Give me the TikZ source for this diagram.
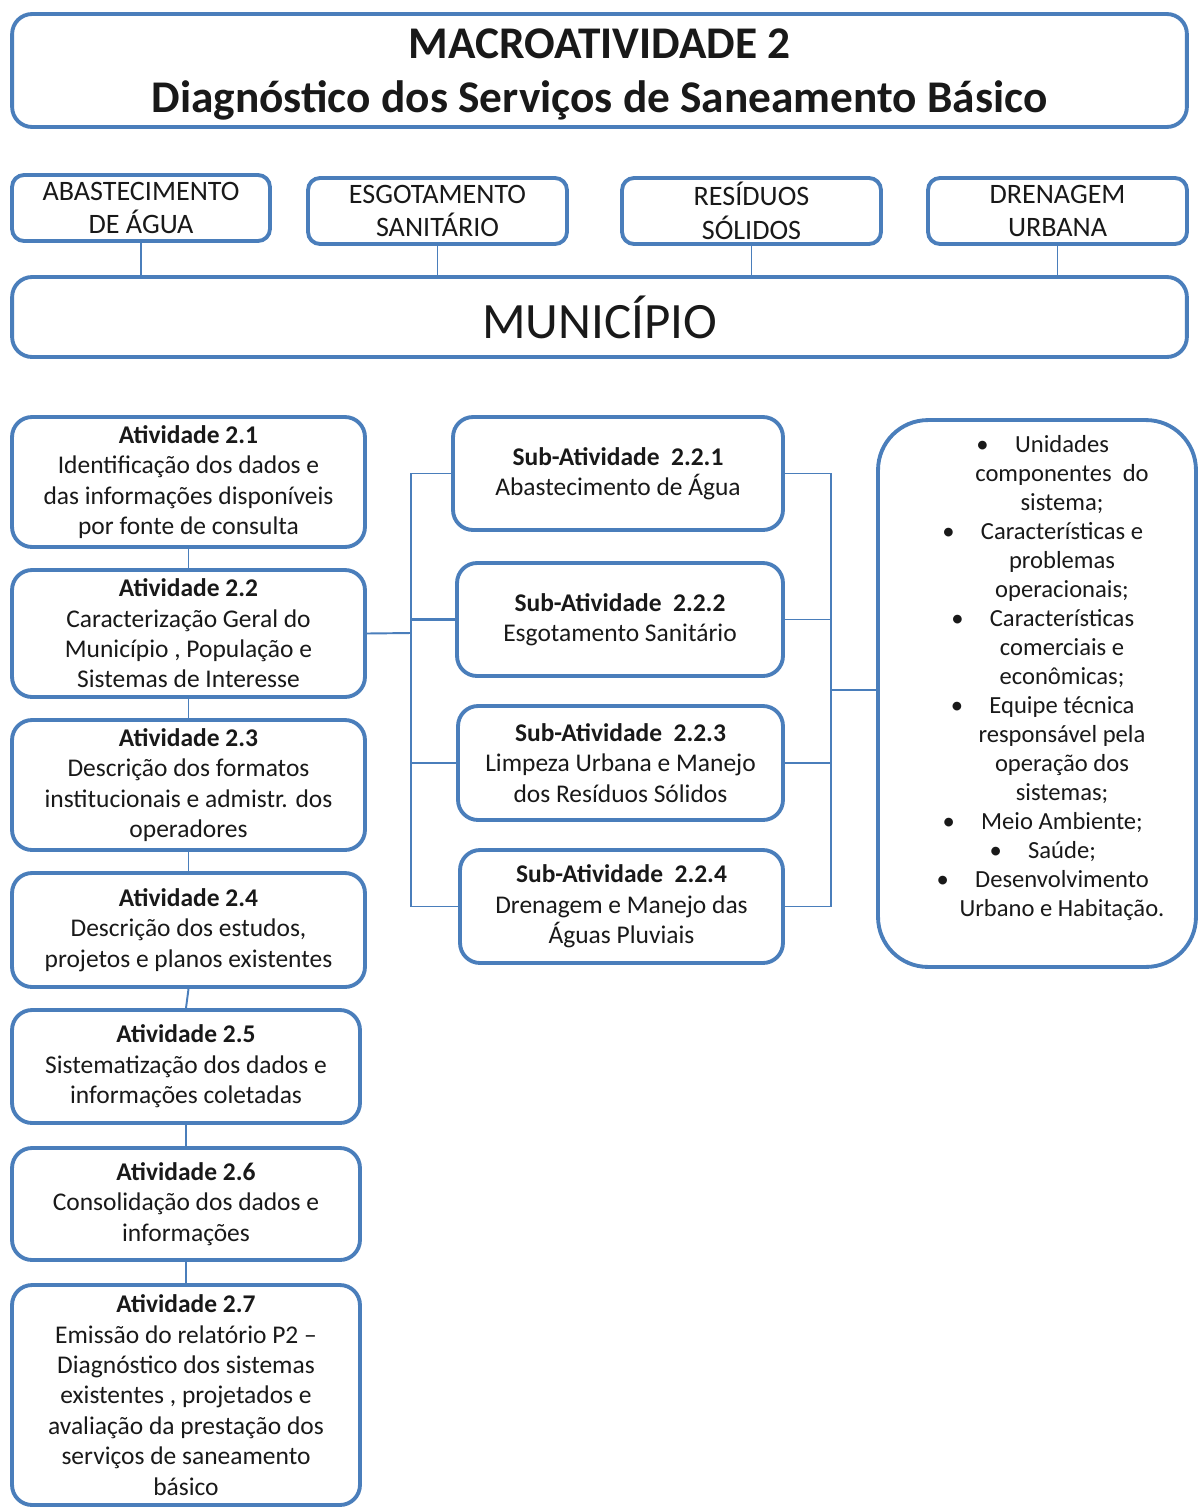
\documentclass[tikz,border=0pt]{standalone}
\usepackage{fontspec}
\setmainfont{Carlito}
\usetikzlibrary{positioning}
\definecolor{B}{RGB}{74,126,187}
\definecolor{T}{RGB}{25,25,25}
\newcommand{\bul}{\llap{\textbullet\hspace{15pt}}}

\begin{document}
\begin{tikzpicture}[x=0.02cm, y=-0.02cm,
  box/.style={draw=B, line width=2.2pt, rounded corners=0.4cm, fill=white, text=T, align=center, inner sep=0pt},
  link/.style={draw=B, line width=1.1pt},
  acttext/.style={font=\fontsize{14.5}{17.3}\selectfont}]
   \useasboundingbox (0,0) rectangle (1198,1508);
   % title and municipio
   \node[box, minimum width=23.5cm, minimum height=2.26cm, text depth=0pt, font=\bfseries\fontsize{25.8}{30.4}\selectfont] (title) at (599.5,70.5) {MACROATIVIDADE 2\\Diagnóstico dos Serviços de Saneamento Básico};
   \node[box, minimum width=23.5cm, minimum height=1.6cm, font=\fontsize{29}{35}\selectfont] (munic) at (599.5,317) {MUNICÍPIO};
   \node[box, rounded corners=0.24cm, minimum width=5.16cm, minimum height=1.32cm, font=\fontsize{16}{19.3}\selectfont] (abast) at (141,208) {ABASTECIMENTO\\DE ÁGUA};
   \node[box, rounded corners=0.24cm, minimum width=5.18cm, minimum height=1.32cm, font=\fontsize{16}{19.3}\selectfont] (esgot) at (437.5,211) {ESGOTAMENTO\\SANITÁRIO};
   \node[box, rounded corners=0.24cm, minimum width=5.18cm, minimum height=1.32cm, font=\fontsize{16}{19.3}\selectfont] (resid) at (751.5,211) {RESÍDUOS\\SÓLIDOS};
   \node[box, rounded corners=0.24cm, minimum width=5.18cm, minimum height=1.32cm, font=\fontsize{16}{19.3}\selectfont] (drena) at (1057.5,211) {DRENAGEM\\URBANA};
   \draw[link] (abast.south) -- (abast.south |- munic.north);
   \draw[link] (esgot.south) -- (esgot.south |- munic.north);
   \draw[link] (resid.south) -- (resid.south |- munic.north);
   \draw[link] (drena.south) -- (drena.south |- munic.north);
   % atividades
   \node[box, acttext, minimum width=7.06cm, minimum height=2.6cm] (a21) at (188.5,482) {\textbf{Atividade 2.1}\\Identificação dos dados e\\das informações disponíveis\\por fonte de consulta};
   \node[box, acttext, minimum width=7.06cm, minimum height=2.54cm] (a22) at (188.5,633.5) {\textbf{Atividade 2.2}\\Caracterização Geral do\\Município , População e\\Sistemas de Interesse};
   \node[box, acttext, minimum width=7.06cm, minimum height=2.6cm] (a23) at (188.5,785) {\textbf{Atividade 2.3}\\Descrição dos formatos\\institucionais e admistr. dos\\operadores};
   \node[box, acttext, minimum width=7.06cm, minimum height=2.28cm] (a24) at (188.5,930) {\textbf{Atividade 2.4}\\Descrição dos estudos,\\projetos e planos existentes};
   \node[box, acttext, minimum width=6.96cm, minimum height=2.26cm] (a25) at (186,1066.5) {\textbf{Atividade 2.5}\\Sistematização dos dados e\\informações coletadas};
   \node[box, acttext, minimum width=6.96cm, minimum height=2.24cm] (a26) at (186,1204) {\textbf{Atividade 2.6}\\Consolidação dos dados e\\informações};
   \node[box, acttext, minimum width=6.96cm, minimum height=4.4cm] (a27) at (186,1395) {\textbf{Atividade 2.7}\\Emissão do relatório P2 –\\Diagnóstico dos sistemas\\existentes ,\ projetados e\\avaliação da prestação dos\\serviços de saneamento\\básico};
   \draw[link] (a21.south) -- (a21.south |- a22.north);
   \draw[link] (a22.south) -- (a22.south |- a23.north);
   \draw[link] (a23.south) -- (a23.south |- a24.north);
   \draw[link] (a24.south) -- (a25.north);
   \draw[link] (a25.south) -- (a25.south |- a26.north);
   \draw[link] (a26.south) -- (a26.south |- a27.north);
   % sub-atividades
   \node[box, acttext, minimum width=6.6cm, minimum height=2.26cm] (s221) at (618,473.5) {\textbf{Sub-Atividade\ \ 2.2.1}\\Abastecimento de Água};
   \node[box, acttext, minimum width=6.52cm, minimum height=2.26cm] (s222) at (620,619.5) {\textbf{Sub-Atividade\ \ 2.2.2}\\Esgotamento Sanitário};
   \node[box, acttext, minimum width=6.5cm, minimum height=2.28cm] (s223) at (620.5,763) {\textbf{Sub-Atividade\ \ 2.2.3}\\Limpeza Urbana e Manejo\\dos Resíduos Sólidos};
   \node[box, acttext, minimum width=6.46cm, minimum height=2.26cm] (s224) at (621.5,906.5) {\textbf{Sub-Atividade\ \ 2.2.4}\\Drenagem e Manejo das\\Águas Pluviais};
   \coordinate (ljoin) at (411,633);
   \draw[link] (a22.east) -- (ljoin);
   \draw[link] (s221.west) -- (s221.west -| ljoin) -- (s224.west -| ljoin) -- (s224.west);
   \draw[link, line width=1.7pt] (s221.west -| ljoin) -- (s222.west -| ljoin) -- (s222.west);
   \draw[link] (s223.west) -- (s223.west -| ljoin);
   % aspectos
   \node[box, rounded corners=1cm, minimum width=6.36cm, minimum height=10.94cm] (rbox) at (1037,693.5) {};
   \node[text=T, align=center, font=\fontsize{14}{16.5}\selectfont] (rtext) at (1062,678) {\bul Unidades\\componentes\ \ do\\sistema;\\\bul Características e\\problemas\\operacionais;\\\bul Características\\comerciais e\\econômicas;\\\bul Equipe técnica\\responsável pela\\operação dos\\sistemas;\\\bul Meio Ambiente;\\\bul Saúde;\\\bul Desenvolvimento\\Urbano e Habitação.};
   \coordinate (rjoin) at (831,690);
   \draw[link] (s221.east) -- (s221.east -| rjoin) -- (s224.east -| rjoin) -- (s224.east);
   \draw[link] (s222.east) -- (s222.east -| rjoin);
   \draw[link] (s223.east) -- (s223.east -| rjoin);
   \draw[link] (rjoin) -- (rbox.west |- rjoin);
\end{tikzpicture}
\end{document}
